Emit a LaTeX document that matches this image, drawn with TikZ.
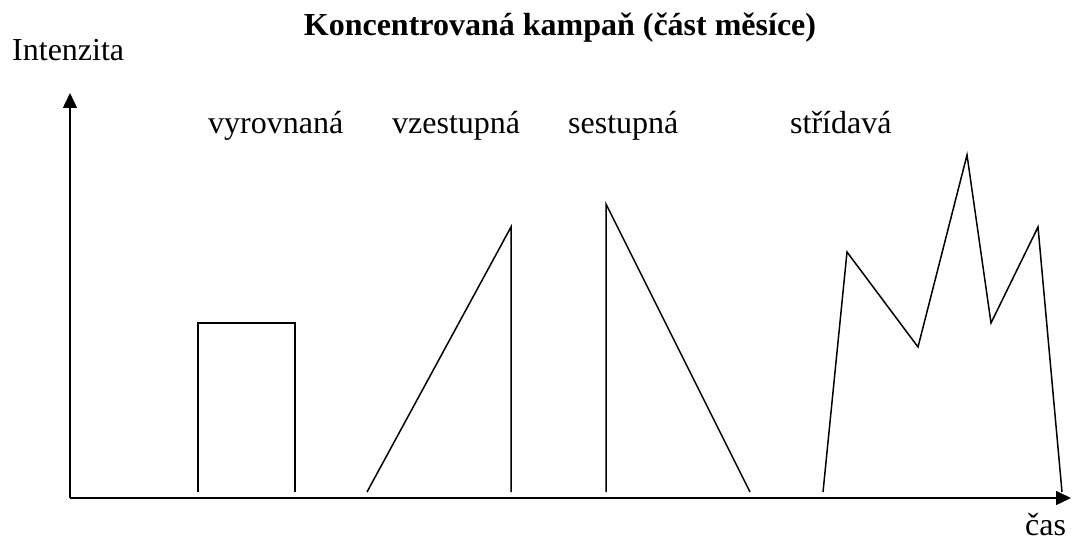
\documentclass[tikz,border=0pt]{standalone}
\usepackage{fontspec}
\setmainfont{Liberation Serif}
\usetikzlibrary{arrows.meta}
\begin{document}
\begin{tikzpicture}[x=1pt,y=-1pt,
  lbl/.style={anchor=base west,inner sep=0pt,font=\fontsize{32}{38}\selectfont},
  ttl/.style={anchor=base,inner sep=0pt,font=\fontsize{32}{38}\selectfont\bfseries},
  axis/.style={line width=1.5pt,-{Triangle[length=15pt,width=14pt]}},
  curve/.style={line width=1.5pt,line join=miter}]
\useasboundingbox (0,0) rectangle (1072,543);
% axes
\coordinate (O) at (70,498);
\coordinate (Ytop) at (70,93);
\coordinate (Xend) at (1071,498);
\draw[axis] (O) -- (Ytop);
\draw[axis] (O) -- (Xend);
% texts
\node[ttl] (title) at (560,36) {Koncentrovaná kampaň (část měsíce)};
\node[lbl] (yl) at (12,61) {Intenzita};
\node[lbl] (xl) at (1025,535) {čas};
\node[lbl] (l1) at (208,133) {vyrovnaná};
\node[lbl] (l2) at (392,133) {vzestupná};
\node[lbl] (l3) at (568,133) {sestupná};
\node[lbl] (l4) at (790,133) {střídavá};
% vyrovnana
\draw[curve] (198,492) -- (198,323) -- (295,323) -- (295,492);
% vzestupna
\draw[curve] (367,492) -- (511,227) -- (511,492);
% sestupna
\draw[curve] (606,492) -- (606,204) -- (750,492);
% stridava
\draw[curve] (823,492) -- (847,252) -- (918,347) -- (967,155) -- (991,323) -- (1038,227) -- (1062,492);
\end{tikzpicture}
\end{document}
